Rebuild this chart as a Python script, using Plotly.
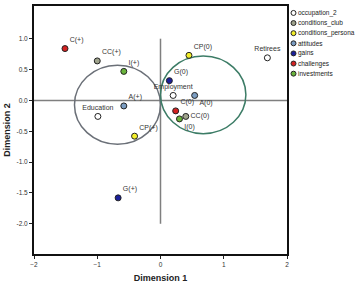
import plotly.graph_objects as go

# ---- data ----
groups = ["occupation_2", "conditions_club", "conditions_persona", "attitudes", "gains", "challenges", "investments"]
group_colors = ["#ffffff", "#9fa38c", "#f3ef2a", "#7b9dc2", "#1b1f9a", "#d32222", "#6ab43c"]

labels = ["Education", "Employment", "Retirees",
          "CC(+)", "CC(0)",
          "CP(+)", "CP(0)",
          "A(+)", "A(0)",
          "G(+)", "G(0)",
          "C(+)", "C(0)",
          "I(+)", "I(0)"]
group_of = [0, 0, 0, 1, 1, 2, 2, 3, 3, 4, 4, 5, 5, 6, 6]
dim1 = [-0.99, 0.20, 1.69, -1.00, 0.40, -0.41, 0.45, -0.58, 0.54, -0.67, 0.14, -1.51, 0.24, -0.58, 0.30]
dim2 = [-0.26, 0.08, 0.69, 0.64, -0.26, -0.58, 0.73, -0.09, 0.08, -1.58, 0.32, 0.84, -0.17, 0.47, -0.30]
label_pos = ["top center", "top center", "top center", "top right", "middle right",
             "top right", "top right", "top right", "bottom right", "top right", "top right",
             "top right", "top right", "top right", "bottom right"]

# cluster ellipses (centre x, centre y, radius x, radius y)
clusters_cx = [-0.68, 0.675]
clusters_cy = [-0.07, 0.09]
clusters_rx = [0.68, 0.675]
clusters_ry = [0.64, 0.63]
cluster_colors = ["#6b7078", "#3c7c66"]

x_ticks = [-2, -1, 0, 1, 2]
y_ticks = [1.0, 0.5, 0.0, -0.5, -1.0, -1.5, -2.0]
y_tick_text = ["1.0", "0.5", "0.0", "-0.5", "-1.0", "-1.5", "-2.0"]

fig = go.Figure()

shapes = []
# reference lines
shapes.append(dict(type="line", xref="x", yref="y", x0=-2, x1=2, y0=0, y1=0,
                   line=dict(color="#7f7f7f", width=1.5), layer="below"))
shapes.append(dict(type="line", xref="x", yref="y", x0=0, x1=0, y0=-2.0, y1=1.0,
                   line=dict(color="#7f7f7f", width=1.5), layer="below"))
for cx, cy, rx, ry, col in zip(clusters_cx, clusters_cy, clusters_rx, clusters_ry, cluster_colors):
    shapes.append(dict(type="circle", xref="x", yref="y", x0=cx - rx, x1=cx + rx,
                       y0=cy - ry, y1=cy + ry, line=dict(color=col, width=1.5), layer="below"))

for gi, g in enumerate(groups):
    idx = [i for i in range(len(labels)) if group_of[i] == gi]
    fig.add_trace(go.Scatter(
        x=[dim1[i] for i in idx], y=[dim2[i] for i in idx],
        mode="markers+text",
        text=[labels[i] for i in idx],
        textposition=[label_pos[i] for i in idx],
        textfont=dict(family="Liberation Sans, Arial", size=7, color="#333333"),
        marker=dict(size=6, color=group_colors[gi], line=dict(color="#222222", width=1)),
        name=g, showlegend=False, cliponaxis=False))

# custom legend
annotations = []
for k, (g, col) in enumerate(zip(groups, group_colors)):
    yy = 1 - (7 + k * 10.2) / 250.0
    shapes.append(dict(type="circle", xref="paper", yref="paper",
                       x0=(291 - 34) / 253.0, x1=(296 - 34) / 253.0,
                       y0=yy - 2.5 / 250.0, y1=yy + 2.5 / 250.0,
                       fillcolor=col, line=dict(color="#222222", width=1)))
    annotations.append(dict(xref="paper", yref="paper", x=(296 - 34) / 253.0, y=yy,
                            text=g, showarrow=False, xanchor="left", yanchor="middle",
                            font=dict(family="Liberation Sans, Arial", size=6.5, color="#222222")))

fig.update_layout(
    width=358, height=287,
    margin=dict(l=34, r=71, t=4, b=33),
    paper_bgcolor="white", plot_bgcolor="white",
    shapes=shapes, annotations=annotations,
    showlegend=False,
    font=dict(family="Liberation Sans, Arial", size=7, color="#222222"),
    xaxis=dict(range=[-2, 2], tickvals=x_ticks, ticks="outside", ticklen=3, tickwidth=1,
               tickcolor="#222222", showgrid=False, zeroline=False,
               showline=True, linecolor="#111111", linewidth=2, mirror=True,
               tickfont=dict(size=6.5, color="#333333"),
               title=dict(text="<b>Dimension 1</b>", font=dict(size=9, color="#222222"), standoff=8)),
    yaxis=dict(range=[-2.49, 1.53], tickvals=y_ticks, ticktext=y_tick_text, ticks="outside",
               ticklen=3, tickwidth=1, tickcolor="#222222", showgrid=False, zeroline=False,
               showline=True, linecolor="#111111", linewidth=2, mirror=True,
               tickfont=dict(size=6.5, color="#333333"),
               title=dict(text="<b>Dimension 2</b>", font=dict(size=9, color="#222222"), standoff=4)),
)

fig.write_html("out.html")
